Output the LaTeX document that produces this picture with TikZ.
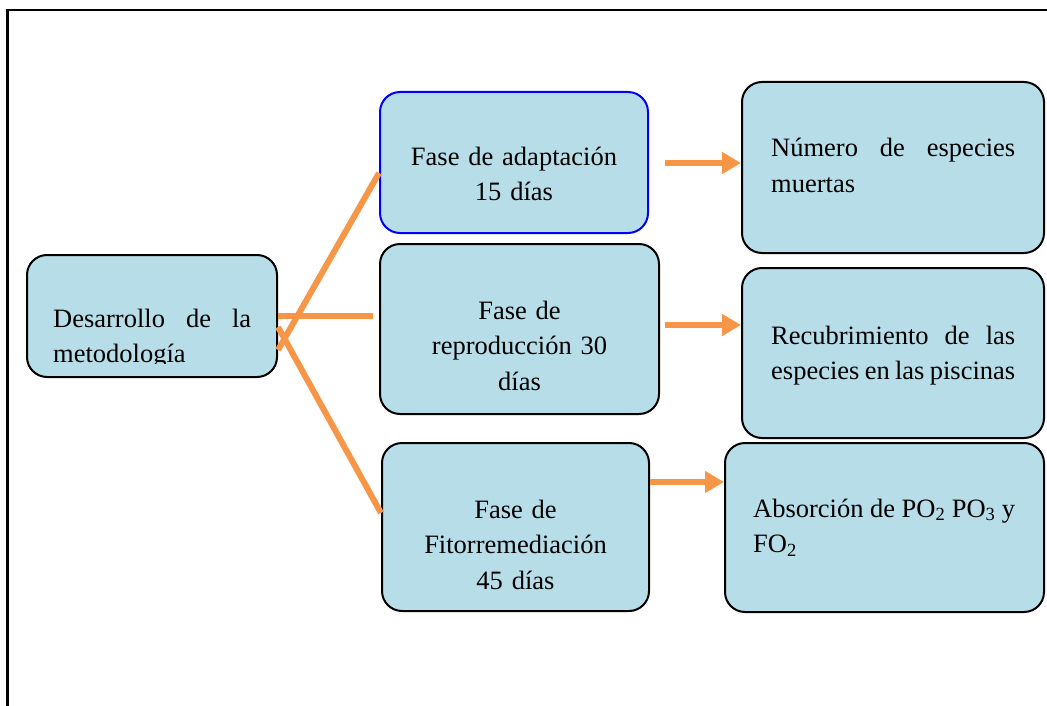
\documentclass[tikz,border=0pt]{standalone}
\usepackage{fontspec}
\setmainfont{Liberation Serif}
\usepackage{tikz}
\usepackage{xcolor}
\usetikzlibrary{calc}
\usetikzlibrary{arrows.meta}

\definecolor{cajaazul}{RGB}{183,221,232}
\definecolor{naranja}{RGB}{247,150,70}
\hyphenpenalty=10000
\tolerance=10000

\begin{document}
\begin{tikzpicture}[x=1pt,y=-1pt,
  caja/.style={draw=black,line width=2pt,fill=cajaazul,rounded corners=20pt,inner sep=0pt},
  texto/.style={inner sep=0pt,font=\fontsize{26.5}{35.5}\selectfont},
  rama/.style={naranja,line width=6pt},
  flecha/.style={naranja,line width=6pt,-{Triangle[length=19pt,width=21pt]}}]
\useasboundingbox (0,0) rectangle (1047,706);

% marco
\draw[line width=2.5pt] (7.5,706) -- (7.5,10) -- (1047,10);

% cajas
\node[caja,minimum width=250pt,minimum height=122pt] (des) at (152,316) {};
\node[caja,draw=blue,minimum width=268pt,minimum height=141pt] (fa) at (514,162.5) {};
\node[caja,minimum width=279pt,minimum height=170pt] (fr) at (519.5,329) {};
\node[caja,minimum width=267pt,minimum height=168pt] (ff) at (515.5,527) {};
\node[caja,minimum width=302pt,minimum height=171pt] (nm) at (893,167.5) {};
\node[caja,minimum width=302pt,minimum height=170pt] (rc) at (893,353) {};
\node[caja,minimum width=319pt,minimum height=169pt] (ab) at (884.5,527.5) {};

% textos
\begin{scope}
\clip (27,255) rectangle (277,363);
\node[texto,text width=198pt,align=justify,anchor=base west] (des-t) at (53,327) {Desarrollo de la metodología};
\end{scope}
\node[texto,text width=260pt,align=center,anchor=base] (fa-t) at (514,165) {Fase de adaptación\\15 días};
\node[texto,text width=260pt,align=center,anchor=base] (fr-t) at (519.5,319) {Fase de\\reproducción 30\\días};
\node[texto,text width=260pt,align=center,anchor=base] (ff-t) at (515.5,518) {Fase de\\Fitorremediación\\45 días};
\node[texto,text width=244pt,align=justify,anchor=base west] (nm-t) at (771,157) {Número de especies muertas};
\node[texto,text width=244pt,align=justify,anchor=base west] (rc-t) at (771,344) {Recubrimiento de las especies en las piscinas};
\node[texto,text width=262pt,align=justify,anchor=base west] (ab-t) at (753,517) {Absorción de PO\textsubscript{2} PO\textsubscript{3} y FO\textsubscript{2}};

% ramas
\coordinate (h1) at (373,316);
\draw[rama] ([yshift=-34pt]des.east) -- ([yshift=-10.5pt]fa.west);
\draw[rama] (des.east) -- (h1);
\draw[rama] ([yshift=-11pt]des.east) -- ([yshift=14pt]ff.west);

% flechas
\coordinate (a1) at (665,163);
\coordinate (a2) at (665,325);
\draw[flecha] (a1) -- (nm.west |- a1);
\draw[flecha] (a2) -- (rc.west |- a2);
\draw[flecha] ([yshift=45pt]ff.east) -- ([yshift=45pt]ff.east -| ab.west);
\end{tikzpicture}
\end{document}
